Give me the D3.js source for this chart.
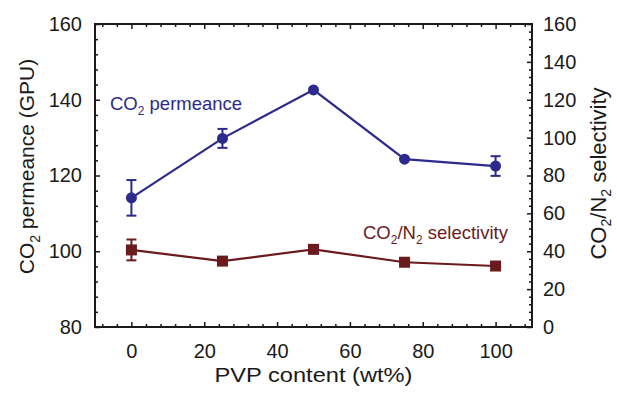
<!DOCTYPE html>
<html>
<head>
<meta charset="utf-8">
<script src="https://cdn.jsdelivr.net/npm/d3@7"></script>
<style>
  body { margin: 0; background: #fff; }
  svg text { font-family: "Liberation Sans", Arial, sans-serif; }
</style>
</head>
<body>
<div id="chart"></div>
<script>
// data
const pvpContent = [0, 25, 50, 75, 100];
const permeance = [114.1, 129.8, 142.6, 124.3, 122.5];
const permeanceErr = [4.7, 2.5, 0, 0, 2.6];
const selectivity = [40.7, 34.8, 41.0, 34.2, 32.2];
const selectivityErr = [5.5, 0, 0, 0, 0];

const xTicks = [0, 20, 40, 60, 80, 100];
const leftTicks = [80, 100, 120, 140, 160];
const rightTicks = [0, 20, 40, 60, 80, 100, 120, 140, 160];

const width = 617, height = 393;
const margin = { top: 24, right: 85, bottom: 66, left: 95 };
const innerW = width - margin.left - margin.right;
const innerH = height - margin.top - margin.bottom;

const blue = "#2c2a8c";
const red = "#6b1b1d";
const ink = "#1a1a1a";

const svg = d3.select("#chart").append("svg")
  .attr("width", width)
  .attr("height", height);

const g = svg.append("g")
  .attr("transform", `translate(${margin.left},${margin.top})`);

const x = d3.scaleLinear().domain([-10, 110]).range([0, innerW]);
const yL = d3.scaleLinear().domain([80, 160]).range([innerH, 0]);
const yR = d3.scaleLinear().domain([0, 160]).range([innerH, 0]);

// minor tick values (every 4 units)
const xMinor = d3.range(-8, 110, 4).filter(v => v % 20 !== 0);
const lMinor = d3.range(80, 160, 4).filter(v => v % 20 !== 0);
const rMinor = d3.range(0, 160, 4).filter(v => v % 20 !== 0);

const styleAxis = sel => {
  sel.select(".domain").remove();
  sel.selectAll(".tick line").attr("stroke", ink).attr("stroke-width", 1.5);
  sel.selectAll(".tick text")
    .attr("fill", ink)
    .style("font-size", "20px");
};

// bottom axis (major + minor), ticks pointing inward
g.append("g").attr("transform", `translate(0,${innerH})`)
  .call(d3.axisBottom(x).tickValues(xTicks).tickSizeInner(-5).tickSizeOuter(0).tickPadding(17))
  .call(styleAxis);
g.append("g").attr("transform", `translate(0,${innerH})`)
  .call(d3.axisBottom(x).tickValues(xMinor).tickSizeInner(-3).tickSizeOuter(0).tickFormat(""))
  .call(styleAxis);

// top mirrored ticks
g.append("g")
  .call(d3.axisTop(x).tickValues(xTicks).tickSizeInner(-5).tickSizeOuter(0).tickFormat(""))
  .call(styleAxis);
g.append("g")
  .call(d3.axisTop(x).tickValues(xMinor).tickSizeInner(-3).tickSizeOuter(0).tickFormat(""))
  .call(styleAxis);

// left axis
g.append("g")
  .call(d3.axisLeft(yL).tickValues(leftTicks).tickSizeInner(-5).tickSizeOuter(0).tickPadding(13))
  .call(styleAxis);
g.append("g")
  .call(d3.axisLeft(yL).tickValues(lMinor).tickSizeInner(-3).tickSizeOuter(0).tickFormat(""))
  .call(styleAxis);

// right axis
g.append("g").attr("transform", `translate(${innerW},0)`)
  .call(d3.axisRight(yR).tickValues(rightTicks).tickSizeInner(-5).tickSizeOuter(0).tickPadding(11))
  .call(styleAxis);
g.append("g").attr("transform", `translate(${innerW},0)`)
  .call(d3.axisRight(yR).tickValues(rMinor).tickSizeInner(-3).tickSizeOuter(0).tickFormat(""))
  .call(styleAxis);

// frame
g.append("rect")
  .attr("width", innerW).attr("height", innerH)
  .attr("fill", "none").attr("stroke", ink).attr("stroke-width", 2);

// series helper
function drawSeries(values, errs, yScale, color, shape) {
  const pts = pvpContent.map((v, i) => ({ x: v, y: values[i], e: errs[i] }));
  const line = d3.line().x(d => x(d.x)).y(d => yScale(d.y));
  g.append("path").datum(pts)
    .attr("d", line)
    .attr("fill", "none").attr("stroke", color).attr("stroke-width", 2.2);

  const eb = g.append("g").selectAll("g").data(pts.filter(d => d.e > 0)).join("g")
    .attr("stroke", color).attr("stroke-width", 2);
  eb.append("line")
    .attr("x1", d => x(d.x)).attr("x2", d => x(d.x))
    .attr("y1", d => yScale(d.y - d.e)).attr("y2", d => yScale(d.y + d.e));
  [-1, 1].forEach(s => {
    eb.append("line")
      .attr("x1", d => x(d.x) - 5).attr("x2", d => x(d.x) + 5)
      .attr("y1", d => yScale(d.y + s * d.e)).attr("y2", d => yScale(d.y + s * d.e));
  });

  if (shape === "circle") {
    g.append("g").selectAll("circle").data(pts).join("circle")
      .attr("cx", d => x(d.x)).attr("cy", d => yScale(d.y))
      .attr("r", 5.5).attr("fill", color);
  } else {
    g.append("g").selectAll("rect").data(pts).join("rect")
      .attr("x", d => x(d.x) - 5.5).attr("y", d => yScale(d.y) - 5.5)
      .attr("width", 11).attr("height", 11).attr("fill", color);
  }
}

drawSeries(selectivity, selectivityErr, yR, red, "square");
drawSeries(permeance, permeanceErr, yL, blue, "circle");

// series labels
const lab1 = svg.append("text")
  .attr("x", 110).attr("y", 110)
  .attr("fill", blue).style("font-size", "18.5px");
lab1.append("tspan").text("CO");
lab1.append("tspan").text("2").attr("dy", 5).style("font-size", "12px");
lab1.append("tspan").text(" permeance").attr("dy", -5);

const lab2 = svg.append("text")
  .attr("x", 363).attr("y", 239)
  .attr("fill", red).style("font-size", "18.5px");
lab2.append("tspan").text("CO");
lab2.append("tspan").text("2").attr("dy", 5).style("font-size", "12px");
lab2.append("tspan").text("/N").attr("dy", -5);
lab2.append("tspan").text("2").attr("dy", 5).style("font-size", "12px");
lab2.append("tspan").text(" selectivity").attr("dy", -5);

// axis titles
svg.append("text")
  .attr("x", margin.left + innerW / 2).attr("y", 382)
  .attr("text-anchor", "middle")
  .attr("textLength", 198).attr("lengthAdjust", "spacingAndGlyphs")
  .attr("fill", ink).style("font-size", "21px")
  .text("PVP content (wt%)");

const t1 = svg.append("text")
  .attr("transform", `translate(34,${margin.top + innerH / 2 - 9}) rotate(-90)`)
  .attr("text-anchor", "middle")
  .attr("fill", ink).style("font-size", "21px");
t1.append("tspan").text("CO");
t1.append("tspan").text("2").attr("dy", 6).style("font-size", "14px");
t1.append("tspan").text(" permeance (GPU)").attr("dy", -6);

const t2 = svg.append("text")
  .attr("transform", `translate(606,${margin.top + innerH / 2 - 2}) rotate(-90)`)
  .attr("text-anchor", "middle")
  .attr("fill", ink).style("font-size", "22px");
t2.append("tspan").text("CO");
t2.append("tspan").text("2").attr("dy", 5).style("font-size", "14px");
t2.append("tspan").text("/N").attr("dy", -5);
t2.append("tspan").text("2").attr("dy", 5).style("font-size", "14px");
t2.append("tspan").text(" selectivity").attr("dy", -5);
</script>
</body>
</html>
